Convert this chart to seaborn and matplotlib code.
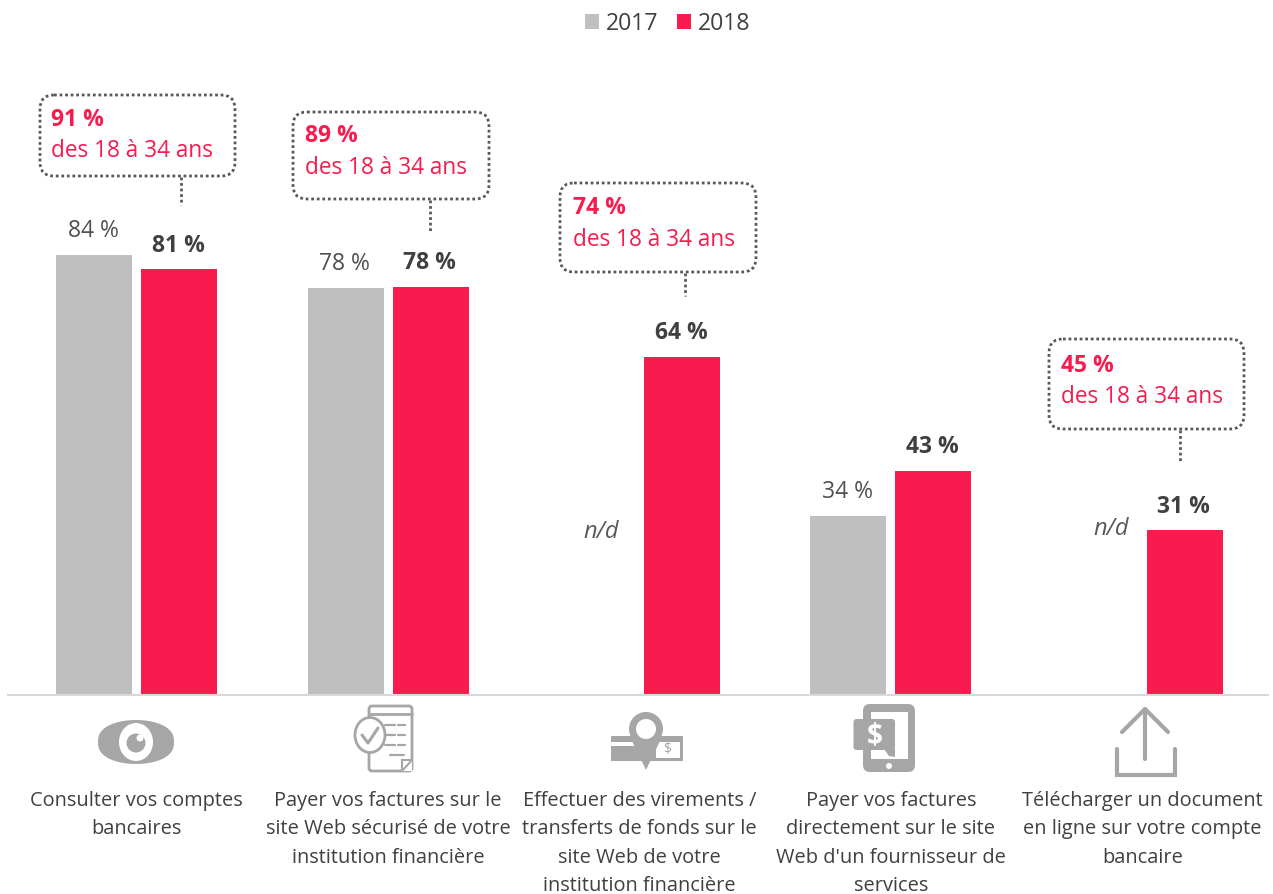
import numpy as np
import pandas as pd
import seaborn as sns
import matplotlib
matplotlib.use('Agg')
import matplotlib.pyplot as plt
from matplotlib.lines import Line2D
from matplotlib.patches import FancyBboxPatch, Circle, Ellipse, Rectangle, Polygon
from matplotlib.transforms import Affine2D

W, H = 1273, 894
RED = '#F71B4E'
GREY = '#BFBFBF'
DARK = '#404040'
ICON = '#A6A6A6'

categories = [
    'Consulter vos comptes\nbancaires',
    'Payer vos factures sur le\nsite Web sécurisé de votre\ninstitution financière',
    'Effectuer des virements /\ntransferts de fonds sur le\nsite Web de votre\ninstitution financière',
    'Payer vos factures\ndirectement sur le site\nWeb d\'un fournisseur de\nservices',
    'Télécharger un document\nen ligne sur votre compte\nbancaire',
]
# bar heights, the labels show them rounded
values_2017 = [83.8, 77.6, np.nan, 34.1, np.nan]
values_2018 = [81.1, 77.8, 64.4, 42.7, 31.4]
youth_values = [91, 89, 74, None, 45]
youth_label = 'des 18 à 34 ans'

sns.set_theme(style='white')
plt.rcParams['font.family'] = ['Open Sans', 'DejaVu Sans']

df = pd.DataFrame({
    'cat': categories * 2,
    'year': ['2017'] * 5 + ['2018'] * 5,
    'val': values_2017 + values_2018,
})

fig = plt.figure(figsize=(W / 100, H / 100), dpi=100)
ax = fig.add_axes([8 / W, (H - 695) / H, 1260 / W, 695 / H])
sns.barplot(data=df, x='cat', y='val', hue='year', palette=[GREY, RED],
            width=0.676, gap=0.106, saturation=1, linewidth=0, edgecolor='none', ax=ax)
ax.set_xlim(-0.512, 4.5)
ax.set_ylim(0, 695 / 5.25)
ax.set_xlabel('')
ax.set_ylabel('')
ax.set_yticks([])
ax.tick_params(axis='x', length=0, pad=69, labelsize=14.4, labelcolor=DARK)
for lab in ax.get_xticklabels():
    lab.set_linespacing(1.57)
for s in ['top', 'left', 'right']:
    ax.spines[s].set_visible(False)
ax.spines['bottom'].set_color('#D9D9D9')
ax.spines['bottom'].set_linewidth(1.5)

# value labels on top of the bars
for i, (a, b) in enumerate(zip(values_2017, values_2018)):
    if not np.isnan(a):
        ax.annotate(f'{a:.0f} %', (i - 0.169, a), xytext=(-0.5, 17), textcoords='offset points',
                    ha='center', va='center', fontsize=16.5, color='#505050')
    ax.annotate(f'{b:.0f} %', (i + 0.169, b), xytext=(-0.7, 17), textcoords='offset points',
                ha='center', va='center', fontsize=16.5, color=DARK, fontweight='bold')

# everything below is placed in image pixels (y going down)
px = Affine2D().scale(1, -1).translate(0, H)


def add(patch):
    patch.set_transform(px)
    patch.set_clip_on(False)
    fig.add_artist(patch)
    return patch


def px_text(x, y, s, **kw):
    return fig.text(x / W, 1 - y / H, s, va='center', **kw)


for x, y in [(601, 532), (1111, 529)]:
    px_text(x, y, 'n/d', ha='center', fontsize=17, style='italic', color='#595959')

# callouts: box x, y, w, h, stem x, stem end, text x, bold line y, second line y
boxes = [(40, 95, 195, 81, 181, 205, 51, 119.5, 151), (293, 112, 196, 87, 430, 232, 305, 136.5, 168),
         (560, 183, 196, 89, 685, 296, 573, 208.5, 240), None,
         (1049, 339, 195, 90, 1180, 463, 1061, 365.5, 397)]
dotted = (0, (1, 1))
for val, box in zip(youth_values, boxes):
    if box is None:
        continue
    x, y, w, h, sx, sy, tx, ty1, ty2 = box
    add(FancyBboxPatch((x + 14, y + 14), w - 28, h - 28, boxstyle='round,pad=14,rounding_size=14',
                       fc='none', ec='#595959', lw=2, ls=dotted))
    add(Line2D([sx, sx], [y + h + 1, sy], color='#595959', lw=2, ls=dotted))
    px_text(tx, ty1, f'{val} %', ha='left', fontsize=16.5, fontweight='bold', color=RED)
    px_text(tx, ty2, youth_label, ha='left', fontsize=16.3, color=RED)

# legend
handles, labels = ax.get_legend_handles_labels()
ax.legend(handles, labels, ncol=2, frameon=False, loc='center', bbox_to_anchor=(668 / W, 1 - 24 / H),
          bbox_transform=fig.transFigure, fontsize=16.6, handlelength=0.62, handleheight=0.62,
          handletextpad=0.3, columnspacing=0.8, labelcolor=DARK)

# icons
# eye
t = np.linspace(0, np.pi, 40)
eye_top = np.c_[136 - 38 * np.cos(t), 742 - 22 * np.sin(t) ** 0.8]
eye_bot = np.c_[136 + 38 * np.cos(t), 742 + 22 * np.sin(t) ** 0.8]
add(Polygon(np.r_[eye_top, eye_bot], closed=True, fc=ICON, ec='none'))
add(Ellipse((136, 742), 34, 38, fc='white', ec='none'))
add(Circle((136, 743), 9.5, fc=ICON, ec='none'))
add(Circle((140, 738), 3.5, fc='white', ec='none'))

# invoice with check mark
add(FancyBboxPatch((369, 706), 43, 65, boxstyle='round,pad=0,rounding_size=3', fc='none', ec=ICON, lw=2))
add(Line2D([369, 412], [714, 714], color=ICON, lw=2))
add(Ellipse((370, 735), 30, 35, fc='white', ec=ICON, lw=2))
add(Line2D([362, 368, 378], [735, 743, 728], color=ICON, lw=2.2))
for yy in [725, 735, 745]:
    add(Line2D([385, 395], [yy, yy], color=ICON, lw=1.6))
    add(Line2D([398, 405], [yy, yy], color=ICON, lw=1.6))
add(Line2D([390, 404], [755, 755], color=ICON, lw=1.6))
add(Polygon([(412, 760), (401, 771), (412, 771)], closed=True, fc='white', ec='none'))
add(Polygon([(412, 760), (402, 760), (402, 771)], closed=True, fc='white', ec=ICON, lw=1.5))

# map pin over a bank note
add(Rectangle((611, 736), 72, 25, fc=ICON, ec='none'))
add(Rectangle((611, 742), 24, 4, fc='white', ec='none'))
add(Rectangle((656, 742), 24, 16, fc='white', ec='none'))
px_text(667, 750, '$', ha='center', fontsize=10, color=ICON)
add(Polygon([(630, 737), (662, 737), (646, 770)], closed=True, fc=ICON, ec='none'))
add(Circle((646, 729), 17, fc=ICON, ec='none'))
add(Circle((646, 729), 10, fc='white', ec='none'))

# phone with dollar bubble
add(FancyBboxPatch((863, 704), 52, 68, boxstyle='round,pad=0,rounding_size=7', fc=ICON, ec='none'))
add(Rectangle((871, 712), 37, 47, fc='white', ec='none'))
add(Circle((889, 766), 3, fc='white', ec='none'))
add(FancyBboxPatch((853.5, 719), 41.5, 31, boxstyle='round,pad=0,rounding_size=3', fc=ICON, ec='none'))
add(Polygon([(884, 749), (895, 749), (895, 757), (889, 756)], closed=True, fc=ICON, ec='none'))
px_text(875, 737, '$', ha='center', fontsize=20, fontweight='bold', color='white')

# upload arrow
up = dict(color=ICON, lw=3, solid_capstyle='round', solid_joinstyle='round')
add(Line2D([1145, 1145], [709, 759], **up))
add(Line2D([1122, 1145, 1168], [732, 709, 732], **up))
add(Line2D([1116.5, 1116.5, 1174.5, 1174.5], [749, 775, 775, 749],
           color=ICON, lw=3, solid_capstyle='round', solid_joinstyle='miter'))

fig.savefig('out.png', dpi=100)
